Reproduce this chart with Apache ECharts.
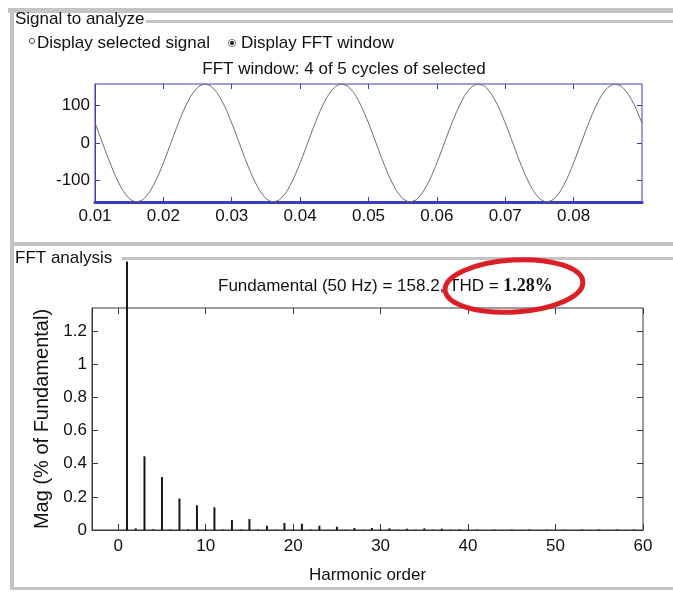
<!DOCTYPE html>
<html>
<head>
<meta charset="utf-8">
<script src="https://cdn.jsdelivr.net/npm/echarts@6/dist/echarts.min.js"></script>
<style>
  html, body { margin: 0; padding: 0; background: #fff; }
  #main { width: 673px; height: 592px; }
</style>
</head>
<body>
<div id="main"></div>
<script>
// signal window, sampled every 1 ms from 0.010 s to 0.090 s
var signalStart = 0.010, signalStep = 0.001;
var signalValues = [
  53.6, 5.0, -44.1, -88.9, -125.0, -148.9, -158.1, -151.9, -130.8, -97.0,
  -53.6, -5.0, 44.1, 88.9, 125.0, 148.9, 158.1, 151.9, 130.8, 97.0,
  53.6, 5.0, -44.1, -88.9, -125.0, -148.9, -158.1, -151.9, -130.8, -97.0,
  -53.6, -5.0, 44.1, 88.9, 125.0, 148.9, 158.1, 151.9, 130.8, 97.0,
  53.6, 5.0, -44.1, -88.9, -125.0, -148.9, -158.1, -151.9, -130.8, -97.0,
  -53.6, -5.0, 44.1, 88.9, 125.0, 148.9, 158.1, 151.9, 130.8, 97.0,
  53.6, 5.0, -44.1, -88.9, -125.0, -148.9, -158.1, -151.9, -130.8, -97.0,
  -53.6, -5.0, 44.1, 88.9, 125.0, 148.9, 158.1, 151.9, 130.8, 97.0,
  53.6
];
var timeTicks = [0.01, 0.02, 0.03, 0.04, 0.05, 0.06, 0.07, 0.08];
var signalTicks = [-100, 0, 100];

// harmonic magnitudes, % of fundamental, orders 0..60
var harmonicMags = [
  0, 100, 0.01, 0.445, 0.005, 0.32, 0.004, 0.19, 0.004, 0.149,
  0.004, 0.137, 0.003, 0.06, 0.003, 0.066, 0.003, 0.026, 0.003, 0.042,
  0.003, 0.038, 0.003, 0.026, 0.002, 0.02, 0.002, 0.012, 0.002, 0.012,
  0.002, 0.01, 0.002, 0.008, 0.002, 0.01, 0.002, 0.008, 0.002, 0.004,
  0.001, 0.003, 0.001, 0.003, 0.001, 0.003, 0.001, 0.003, 0.001, 0.003,
  0.001, 0.003, 0.001, 0.003, 0.001, 0.003, 0.001, 0.003, 0.001, 0.003,
  0
];
var harmonicTicks = [0, 10, 20, 30, 40, 50, 60];
var magTicks = [0, 0.2, 0.4, 0.6, 0.8, 1, 1.2];

var barCap = 1.62; // fundamental bar is cut off by the panel frame

var signalData = signalValues.map(function (v, i) {
  return [+(signalStart + i * signalStep).toFixed(3), v];
});
var harmonicData = harmonicMags.map(function (v, i) {
  return [i, Math.min(v, barCap)];
});

var font = "'Liberation Sans', Arial, sans-serif";
var blue = '#3c3cbe';
var dark = '#3a3a3a';
var frame = '#c4c4c4';

var option = {
  animation: false,
  backgroundColor: '#fff',
  textStyle: { fontFamily: font },
  grid: [
    { left: 95, top: 84, width: 547, height: 118, show: true, borderColor: blue, borderWidth: 1, z: 1 },
    { left: 92, top: 308, width: 551, height: 222, show: true, borderColor: dark, borderWidth: 1, z: 1 }
  ],
  xAxis: [
    {
      gridIndex: 0, type: 'value', min: 0.01, max: 0.09, position: 'bottom',
      axisLine: { onZero: false, lineStyle: { color: blue, width: 3 } },
      axisTick: { inside: true, length: 5, customValues: timeTicks, lineStyle: { color: blue } },
      axisLabel: { customValues: timeTicks, color: '#111', fontSize: 17, margin: 6, fontFamily: font,
        formatter: function (v) { return v.toFixed(2); } },
      splitLine: { show: false }
    },
    {
      gridIndex: 0, type: 'value', min: 0.01, max: 0.09, position: 'top',
      axisLine: { show: false, onZero: false },
      axisTick: { inside: true, length: 5, customValues: timeTicks, lineStyle: { color: blue } },
      axisLabel: { show: false },
      splitLine: { show: false }
    },
    {
      gridIndex: 1, type: 'value', min: -3, max: 60, position: 'bottom',
      name: 'Harmonic order', nameLocation: 'middle', nameGap: 37,
      nameTextStyle: { color: '#111', fontSize: 17, fontFamily: font },
      axisLine: { onZero: false, lineStyle: { color: dark } },
      axisTick: { inside: true, length: 6, customValues: harmonicTicks, lineStyle: { color: dark } },
      axisLabel: { customValues: harmonicTicks, color: '#111', fontSize: 17, margin: 8, fontFamily: font },
      splitLine: { show: false }
    },
    {
      gridIndex: 1, type: 'value', min: -3, max: 60, position: 'top',
      axisLine: { show: false, onZero: false },
      axisTick: { inside: true, length: 6, customValues: harmonicTicks, lineStyle: { color: dark } },
      axisLabel: { show: false },
      splitLine: { show: false }
    }
  ],
  yAxis: [
    {
      gridIndex: 0, type: 'value', min: -158.2, max: 158.2, position: 'left',
      axisLine: { show: true, onZero: false, lineStyle: { color: blue } },
      axisTick: { show: true, inside: true, length: 5, customValues: signalTicks, lineStyle: { color: blue } },
      axisLabel: { customValues: signalTicks, color: '#111', fontSize: 17, margin: 5, fontFamily: font },
      splitLine: { show: false }
    },
    {
      gridIndex: 0, type: 'value', min: -158.2, max: 158.2, position: 'right',
      axisLine: { show: false, onZero: false },
      axisTick: { show: true, inside: true, length: 5, customValues: signalTicks, lineStyle: { color: blue } },
      axisLabel: { show: false },
      splitLine: { show: false }
    },
    {
      gridIndex: 1, type: 'value', min: 0, max: 1.34, position: 'left',
      name: 'Mag (% of Fundamental)', nameLocation: 'middle', nameGap: 37,
      nameTextStyle: { color: '#111', fontSize: 20, fontFamily: font },
      axisLine: { show: true, onZero: false, lineStyle: { color: dark } },
      axisTick: { show: true, inside: true, length: 6, customValues: magTicks, lineStyle: { color: dark } },
      axisLabel: { customValues: magTicks, color: '#111', fontSize: 17, margin: 5, fontFamily: font },
      splitLine: { show: false }
    },
    {
      gridIndex: 1, type: 'value', min: 0, max: 1.34, position: 'right',
      axisLine: { show: false, onZero: false },
      axisTick: { show: true, inside: true, length: 6, customValues: magTicks, lineStyle: { color: dark } },
      axisLabel: { show: false },
      splitLine: { show: false }
    }
  ],
  series: [
    {
      type: 'line', xAxisIndex: 0, yAxisIndex: 0,
      data: signalData, showSymbol: false, smooth: 0.2,
      lineStyle: { color: '#7a645a', width: 1 }, z: 3
    },
    {
      type: 'bar', xAxisIndex: 2, yAxisIndex: 2,
      data: harmonicData, barWidth: 2, clip: false,
      itemStyle: { color: '#15151f' }, z: 3
    }
  ],
  graphic: [
    // top window strip and "Signal to analyze" group frame
    { type: 'rect', shape: { x: 8, y: 8, width: 665, height: 5 }, style: { fill: frame } },
    { type: 'rect', shape: { x: 10, y: 13, width: 4, height: 233 }, style: { fill: frame } },
    { type: 'rect', shape: { x: 146, y: 20, width: 527, height: 3 }, style: { fill: frame } },
    { type: 'rect', shape: { x: 10, y: 242, width: 663, height: 4 }, style: { fill: frame } },
    { type: 'text', left: 15, top: 11, style: { text: 'Signal to analyze', font: '17px ' + font, fill: '#111' } },
    { type: 'circle', shape: { cx: 32, cy: 41, r: 2.6 }, style: { fill: '#fff', stroke: '#555', lineWidth: 1 } },
    { type: 'text', left: 37, top: 35, style: { text: 'Display selected signal', font: '17px ' + font, fill: '#111' } },
    { type: 'circle', shape: { cx: 232, cy: 43, r: 3.6 }, style: { fill: '#fff', stroke: '#777', lineWidth: 1 } },
    { type: 'circle', shape: { cx: 232, cy: 43, r: 2 }, style: { fill: '#111' } },
    { type: 'text', left: 241, top: 35, style: { text: 'Display FFT window', font: '17px ' + font, fill: '#111' } },
    { type: 'text', x: 344, y: 69, style: { text: 'FFT window: 4 of 5 cycles of selected', font: '17px ' + font,
      fill: '#111', align: 'center', verticalAlign: 'middle' } },
    // "FFT analysis" group frame
    { type: 'rect', shape: { x: 10, y: 246, width: 4, height: 344 }, style: { fill: frame } },
    { type: 'rect', shape: { x: 122, y: 257, width: 551, height: 3 }, style: { fill: frame } },
    { type: 'rect', shape: { x: 10, y: 587, width: 663, height: 3 }, style: { fill: frame } },
    { type: 'text', left: 15, top: 250, style: { text: 'FFT analysis', font: '17px ' + font, fill: '#111' } },
    {
      type: 'text', x: 218, y: 286, z: 5,
      style: {
        text: 'Fundamental (50 Hz) = 158.2, THD = {v|1.28%}',
        font: '17px ' + font, fill: '#111', verticalAlign: 'middle',
        rich: { v: { fontFamily: "'Liberation Serif', 'Times New Roman', serif", fontWeight: 'bold', fontSize: 18, fill: '#111' } }
      }
    },
    {
      type: 'ellipse', x: 514, y: 286, rotation: 0.06, z: 6,
      shape: { cx: 0, cy: 0, rx: 69, ry: 26 },
      style: { fill: 'none', stroke: '#dc1f26', lineWidth: 5 }
    }
  ]
};

var myChart = echarts.init(document.getElementById('main'));
myChart.setOption(option);
</script>
</body>
</html>
